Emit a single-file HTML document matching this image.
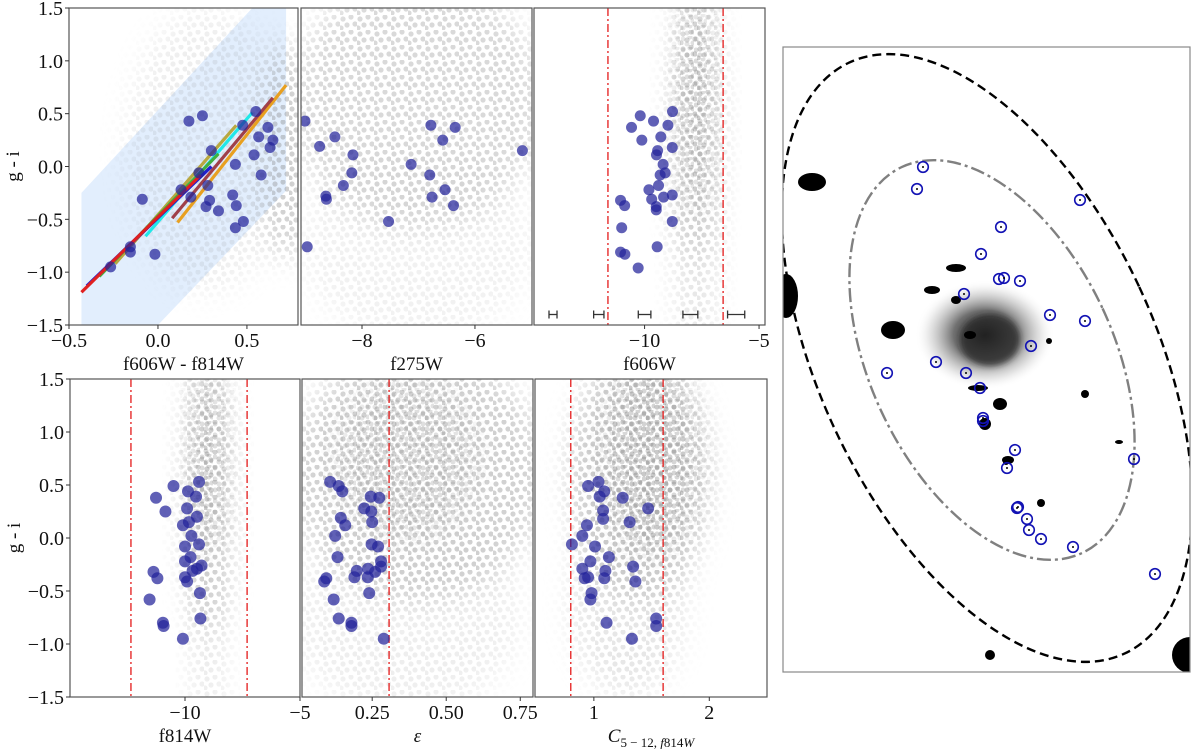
<!DOCTYPE html>
<html><head><meta charset="utf-8">
<style>
html,body{margin:0;padding:0;background:#fff;}
svg text{font-family:"Liberation Serif",serif;fill:#111;}
</style></head>
<body>
<svg id="fig" width="1200" height="749" viewBox="0 0 1200 749" xmlns="http://www.w3.org/2000/svg">
<defs>
<pattern id="dots" width="17" height="15" patternUnits="userSpaceOnUse">
<circle cx="3" cy="4" r="2.6" fill="#888" fill-opacity="0.45"/>
<circle cx="11" cy="2" r="2.6" fill="#888" fill-opacity="0.45"/>
<circle cx="7" cy="10" r="2.6" fill="#888" fill-opacity="0.45"/>
<circle cx="15" cy="9" r="2.6" fill="#888" fill-opacity="0.45"/>
<circle cx="1" cy="13" r="2.6" fill="#888" fill-opacity="0.45"/>
</pattern>
<pattern id="dots2" width="13" height="11" patternUnits="userSpaceOnUse" x="5" y="3">
<circle cx="2" cy="3" r="2.5" fill="#777" fill-opacity="0.4"/>
<circle cx="9" cy="1" r="2.5" fill="#777" fill-opacity="0.4"/>
<circle cx="6" cy="8" r="2.5" fill="#777" fill-opacity="0.4"/>
<circle cx="12" cy="7" r="2.5" fill="#777" fill-opacity="0.4"/>
</pattern>
<filter id="blur" x="-50%" y="-50%" width="200%" height="200%"><feGaussianBlur stdDeviation="14"/></filter>
<filter id="blur2" x="-50%" y="-50%" width="200%" height="200%"><feGaussianBlur stdDeviation="3"/></filter>
<radialGradient id="gal" cx="0.5" cy="0.5" r="0.5">
<stop offset="0" stop-color="#111" stop-opacity="0.95"/>
<stop offset="0.45" stop-color="#333" stop-opacity="0.7"/>
<stop offset="0.8" stop-color="#888" stop-opacity="0.2"/>
<stop offset="1" stop-color="#fff" stop-opacity="0"/>
</radialGradient>
</defs>
</svg>
<script>
// ---- data arrays ----
const p1X=[0.174,0.25,0.55,0.476,0.618,0.566,0.646,0.63,0.30,0.54,0.435,0.23,0.58,0.28,0.13,0.185,0.42,-0.088,0.29,0.27,0.34,0.44,0.48,0.435,-0.155,-0.155,-0.017,-0.266];
const p1Y=[0.43,0.48,0.52,0.39,0.37,0.28,0.25,0.18,0.15,0.11,0.02,-0.06,-0.08,-0.18,-0.22,-0.29,-0.27,-0.31,-0.32,-0.38,-0.42,-0.37,-0.52,-0.58,-0.76,-0.81,-0.83,-0.95];
const lineNames=["orange","maroon","cyan","olive","green","purple","blue","red"];
const lineX0=[0.11,0.08,-0.07,-0.24,-0.33,-0.38,-0.40,-0.43];
const lineY0=[-0.53,-0.49,-0.66,-0.92,-1.04,-1.10,-1.13,-1.19];
const lineX1=[0.72,0.646,0.53,0.44,0.34,0.30,0.30,0.24];
const lineY1=[0.77,0.65,0.51,0.39,0.12,0.0,0.0,-0.08];
const lineColors=["#e8a020","#a0404a","#20e8e8","#b8a840","#40b040","#7030a0","#2020d0","#e02020"];
const regionX=[-0.43,-0.43,0.53,0.72,0.72,0.0];
const regionY=[-1.5,-0.25,1.5,1.5,-0.23,-1.5];

const p2X=[-9.01,-8.48,-8.75,-8.16,-8.18,-8.33,-8.64,-8.63,-7.53,-8.97,-6.78,-6.35,-6.57,-5.16,-7.13,-6.80,-6.53,-6.76,-6.38];
const p2Y=[0.43,0.28,0.19,0.11,-0.06,-0.18,-0.28,-0.31,-0.52,-0.76,0.39,0.37,0.25,0.15,0.02,-0.08,-0.22,-0.29,-0.37];

const p3X=[-8.78,-10.19,-9.61,-8.98,-10.57,-9.29,-10.12,-8.79,-9.43,-9.48,-9.19,-9.10,-9.32,-9.39,-9.81,-9.69,-9.17,-8.79,-11.05,-10.87,-9.49,-9.49,-8.79,-11.0,-9.45,-11.05,-10.86,-10.28];
const p3Y=[0.52,0.48,0.43,0.39,0.37,0.28,0.25,0.18,0.15,0.11,0.02,-0.06,-0.08,-0.18,-0.22,-0.31,-0.29,-0.27,-0.32,-0.37,-0.38,-0.41,-0.52,-0.58,-0.76,-0.81,-0.83,-0.96];
const p3Cuts=[-11.6,-6.57];
const errX=[-14.0,-12.0,-10.0,-8.0,-6.0];
const errW=[0.35,0.45,0.55,0.65,0.75];

const p4X=[-9.39,-10.5,-9.87,-9.52,-11.26,-9.91,-10.85,-9.48,-9.83,-10.09,-9.72,-9.39,-10.0,-9.76,-10.0,-9.28,-9.67,-9.48,-11.37,-11.2,-10.0,-9.91,-9.35,-11.54,-10.96,-10.93,-9.33,-10.09];
const p4Y=[0.53,0.49,0.44,0.39,0.38,0.28,0.25,0.20,0.15,0.12,0.02,-0.06,-0.08,-0.18,-0.22,-0.26,-0.31,-0.29,-0.32,-0.38,-0.37,-0.41,-0.52,-0.58,-0.80,-0.83,-0.76,-0.95];
const p4Cuts=[-12.35,-7.3];

const p5X=[0.108,0.137,0.149,0.245,0.274,0.223,0.247,0.144,0.25,0.159,0.125,0.248,0.27,0.133,0.28,0.28,0.236,0.198,0.26,0.095,0.19,0.235,0.088,0.24,0.12,0.137,0.18,0.18,0.289];
const p5Y=[0.53,0.49,0.44,0.39,0.38,0.28,0.25,0.19,0.15,0.12,0.02,-0.06,-0.08,-0.18,-0.22,-0.27,-0.29,-0.31,-0.32,-0.38,-0.37,-0.37,-0.41,-0.52,-0.58,-0.76,-0.80,-0.83,-0.95];
const p5Cuts=[0.307];

const p6X=[0.95,1.04,1.09,1.05,1.25,1.47,1.08,1.08,1.31,0.94,0.90,0.81,1.01,1.13,0.97,1.34,0.90,1.10,1.09,0.92,0.95,1.36,0.98,0.97,1.54,1.11,1.54,1.33];
const p6Y=[0.49,0.53,0.44,0.39,0.38,0.28,0.26,0.18,0.15,0.12,0.02,-0.06,-0.08,-0.18,-0.22,-0.27,-0.29,-0.31,-0.38,-0.38,-0.37,-0.41,-0.52,-0.58,-0.76,-0.80,-0.83,-0.95];
const p6Cuts=[0.8,1.6];

const gcImgX=[923,917,1080,1001,981,999,1004,1020,964,1050,1085,1031,936,887,966,980,983,983,1015,1007,1018,1017,1027,1029,1041,1073,1134,1155];
const gcImgY=[167,189,200,227,254,279,278,281,294,315,321,346,362,373,373,388,418,421,450,468,507,508,519,530,539,547,459,574];

// ---- helpers ----
const NS="http://www.w3.org/2000/svg";
const svg=document.getElementById('fig');
function el(tag,attrs,parent){const e=document.createElementNS(NS,tag);for(const k in attrs)e.setAttribute(k,attrs[k]);(parent||svg).appendChild(e);return e;}
function txt(s,x,y,size,anchor,parent){const t=el('text',{x:x,y:y,'font-size':size,'text-anchor':anchor||'middle'},parent);t.textContent=s;return t;}

let clipN=0;
function cloudLayer(inner,g,x0,y0,w,h,cloud,pat){
  if(!cloud.length)return;
  const mid='mask'+(clipN++);
  const m=el('mask',{id:mid},g);
  cloud.forEach(c=>{el('ellipse',{cx:x0+c[0]*w,cy:y0+c[1]*h,rx:c[2]*w,ry:c[3]*h,fill:'#fff','fill-opacity':c[4],filter:'url(#blur)'},m);});
  const cr=el('rect',{x:x0,y:y0,width:w,height:h,fill:'url(#'+pat+')',mask:'url(#'+mid+')'},inner);
  
  
}
function panel(name,x0,y0,w,h,xmin,xmax,xticks,xtickLabels,xlabel,showY,cloud,dense){
  const g=el('g',{});
  
  
  const sx=v=>x0+(v-xmin)/(xmax-xmin)*w;
  const sy=v=>y0+(1.5-v)/3*h;
  const cid='clip'+(clipN++);
  const cp=el('clipPath',{id:cid},g);el('rect',{x:x0,y:y0,width:w,height:h},cp);
  const inner=el('g',{'clip-path':'url(#'+cid+')'},g);
  cloudLayer(inner,g,x0,y0,w,h,cloud,'dots');
  cloudLayer(inner,g,x0,y0,w,h,dense||[],'dots2');
  el('rect',{x:x0,y:y0,width:w,height:h,fill:'none',stroke:'#555','stroke-width':1.2},g);
  xticks.forEach((v,i)=>{const X=sx(v);el('line',{x1:X,x2:X,y1:y0+h,y2:y0+h+4,stroke:'#333'},g);
    const t=txt(xtickLabels[i],X,y0+h+22,20,'middle',g);
    
    });
  const xl=txt('',x0+w/2,y0+h+45,19,'middle',g);
  xl.innerHTML=xlabel;
  
  
  if(showY){
    [1.5,1.0,0.5,0.0,-0.5,-1.0,-1.5].forEach(v=>{const Y=sy(v);el('line',{x1:x0-4,x2:x0,y1:Y,y2:Y,stroke:'#333'},g);
      const t=txt((v<0?'\u2212':'')+Math.abs(v).toFixed(1),x0-6,Y+7,20,'end',g);
      
      });
    const yl=txt('g - i',0,0,19,'middle',g);
    yl.setAttribute('transform','translate('+(x0-50)+','+(y0+h/2)+') rotate(-90)');
    
    
  }
  return {g,inner,sx,sy};
}
function blueDots(P,xs,ys,r){
  xs.forEach((v,i)=>{const c=el('circle',{cx:P.sx(v),cy:P.sy(ys[i]),r:r,fill:'#23239a','fill-opacity':0.72},P.inner);
    
    });
}
function cuts(P,arr,y0,h){
  arr.forEach(v=>{const l=el('line',{x1:P.sx(v),x2:P.sx(v),y1:y0,y2:y0+h,stroke:'#e41a1a','stroke-width':1.3,'stroke-dasharray':'8,3,2,3'},P.inner);
    
    });
}

// ---- top row ----
const T0=8,TH=317,B0=379,BH=318;
const P1=panel('panel-color-color',69,T0,229,TH,-0.5,0.787,[-0.5,0,0.5],['\u22120.5','0.0','0.5'],'f606W - f814W',true,
  [[0.95,0.45,0.12,0.35,0.9],[0.6,0.45,0.35,0.45,0.3]]);
const reg=el('polygon',{points:regionX.map((v,i)=>P1.sx(v)+','+P1.sy(regionY[i])).join(' '),fill:'#cfe3fb','fill-opacity':0.6,stroke:'none'},P1.inner);


P1.inner.insertBefore(reg,P1.inner.firstChild);
lineNames.forEach((n,i)=>{const l=el('line',{x1:P1.sx(lineX0[i]),y1:P1.sy(lineY0[i]),x2:P1.sx(lineX1[i]),y2:P1.sy(lineY1[i]),stroke:lineColors[i],'stroke-width':3.2},P1.inner);
  
  });
blueDots(P1,p1X,p1Y,5.5);

const P2=panel('panel-f275w',301,T0,231,TH,-9.08,-4.99,[-8,-6],['\u22128','\u22126'],'f275W',false,
  [[0.5,0.3,0.55,0.4,0.7],[0.5,0.75,0.5,0.3,0.25]]);
blueDots(P2,p2X,p2Y,5.5);

const P3=panel('panel-f606w',534,T0,231,TH,-14.83,-4.74,[-10,-5],['\u221210','\u22125'],'f606W',false,
  [[0.7,0.35,0.1,0.45,1],[0.7,0.8,0.09,0.3,0.5]],[[0.7,0.3,0.06,0.35,1]]);
cuts(P3,p3Cuts,T0,TH);
errX.forEach((v,i)=>{const yy=314.5;const a=P3.sx(v-errW[i]/2),b=P3.sx(v+errW[i]/2);
  const g=el('g',{stroke:'#333','stroke-width':1.3},P3.inner);
  
  
  el('line',{x1:a,x2:b,y1:yy,y2:yy},g);el('line',{x1:a,x2:a,y1:yy-4,y2:yy+4},g);el('line',{x1:b,x2:b,y1:yy-4,y2:yy+4},g);});
blueDots(P3,p3X,p3Y,5.5);

// ---- bottom row ----
const P4=panel('panel-f814w',70,B0,230,BH,-15,-5,[-10,-5],['\u221210','\u22125'],'f814W',true,
  [[0.6,0.35,0.1,0.45,1],[0.6,0.8,0.07,0.3,0.45]],[[0.6,0.25,0.06,0.3,1]]);
blueDots(P4,p4X,p4Y,6);
cuts(P4,p4Cuts,B0,BH);

const P5=panel('panel-ellipticity',302,B0,231,BH,0.013,0.793,[0.25,0.5,0.75],['0.25','0.50','0.75'],'<tspan font-style="italic">ε</tspan>',false,
  [[0.5,0.3,0.55,0.4,0.85],[0.45,0.75,0.5,0.3,0.3]],[[0.45,0.25,0.3,0.25,0.6]]);
cuts(P5,p5Cuts,B0,BH);
blueDots(P5,p5X,p5Y,6);

const P6=panel('panel-concentration',535,B0,232,BH,0.49,2.5,[1,2],['1','2'],'<tspan font-style="italic">C</tspan><tspan font-size="13" dy="5">5 − 12, <tspan font-style="italic">f</tspan>814<tspan font-style="italic">W</tspan></tspan>',false,
  [[0.45,0.3,0.3,0.4,1],[0.4,0.7,0.25,0.3,0.45]],[[0.5,0.25,0.2,0.3,0.8]]);
cuts(P6,p6Cuts,B0,BH);
blueDots(P6,p6X,p6Y,6);

// ---- image panel ----
const img=el('g',{});


const icp=el('clipPath',{id:'imgclip'},img);el('rect',{x:783,y:47,width:407,height:625},icp);
const ig=el('g',{'clip-path':'url(#imgclip)'},img);
el('rect',{x:783,y:47,width:407,height:625,fill:'#fff'},ig);
el('ellipse',{cx:985,cy:335,rx:70,ry:55,fill:'url(#gal)'},ig);
el('ellipse',{cx:990,cy:340,rx:30,ry:26,fill:'#222','fill-opacity':0.7,filter:'url(#blur2)'},ig);
[[812,182,14,9],[786,296,12,22],[893,330,12,9],[932,290,8,4],[956,268,10,4],[956,300,5,4],[970,335,6,4],[978,388,10,3],[1000,404,7,6],[1008,460,6,4],[1006,462,3,3],[990,655,5,5],[1190,655,18,18],[1041,503,4,4],[1085,394,4,4],[985,424,6,6],[1049,341,3,3],[1119,442,4,2]].forEach(b=>{
  const e=el('ellipse',{cx:b[0],cy:b[1],rx:b[2],ry:b[3],fill:'#000'},ig);
  
  });
const oe=el('ellipse',{cx:987,cy:358,rx:168,ry:326,fill:'none',stroke:'#000','stroke-width':2.4,'stroke-dasharray':'9,5',transform:'rotate(-25 987 358)'},ig);


const ie=el('ellipse',{cx:992,cy:360,rx:122,ry:213,fill:'none',stroke:'#808080','stroke-width':2.4,'stroke-dasharray':'14,4,3,4',transform:'rotate(-25 992 360)'},ig);


gcImgX.forEach((x,i)=>{
  const c=el('circle',{cx:x,cy:gcImgY[i],r:5.3,fill:'none',stroke:'#1212b4','stroke-width':1.6},ig);
  
  
  el('circle',{cx:x,cy:gcImgY[i],r:1,fill:'#000'},ig);
});
el('rect',{x:783,y:47,width:407,height:625,fill:'none',stroke:'#888','stroke-width':1.2},img);
</script>
</body></html>
